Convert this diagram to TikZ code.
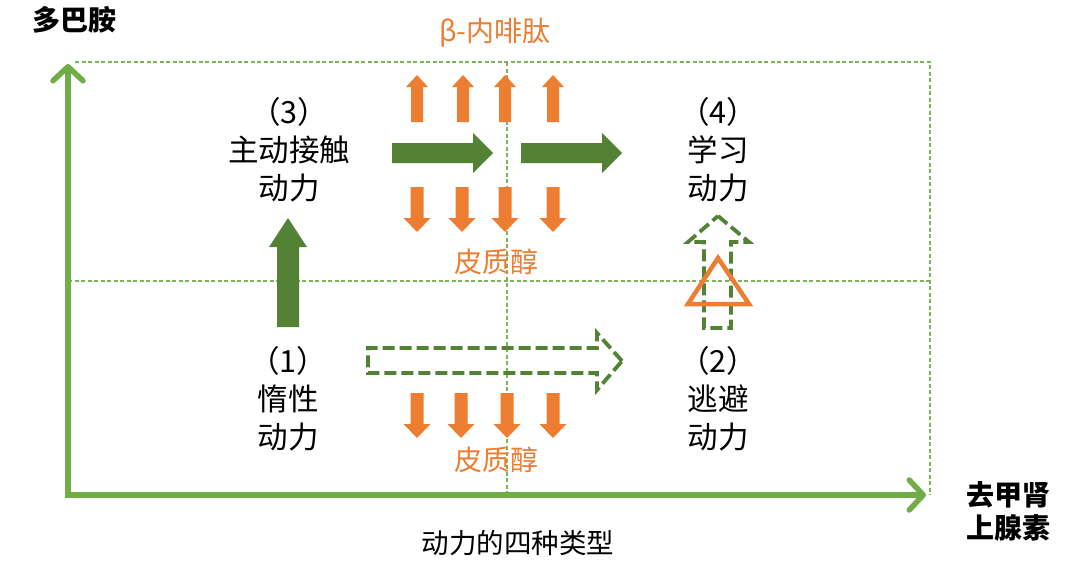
\documentclass[tikz,border=0pt]{standalone}
\usepackage{fontspec}
\setmainfont{Noto Sans CJK SC}
\usetikzlibrary{arrows.meta}
\definecolor{lgreen}{HTML}{70AD47}
\definecolor{dgreen}{HTML}{548235}
\definecolor{orng}{HTML}{ED7D31}
\tikzset{
  grid/.style={lgreen!90, line width=1.1pt, dash pattern=on 4pt off 2.5pt},
  axis/.style={lgreen, line width=5.5pt, -{Straight Barb[length=14pt,width=30pt,round]}},
  lbl/.style={align=center, font=\fontsize{30.5}{38}\selectfont, inner sep=0pt},
  olbl/.style={text=orng, font=\fontsize{28}{30}\selectfont, inner sep=0pt},
  blbl/.style={align=center, font=\bfseries\fontsize{28}{33}\selectfont, inner sep=0pt},
  hollow/.style={draw=dgreen, line width=3.8pt, dash pattern=on 12pt off 5pt, line join=miter},
  oup/.pic={\fill[orng] (0,0) -- (11,12) -- (6,12) -- (6,47) -- (-6,47) -- (-6,12) -- (-11,12) -- cycle;},
  odown/.pic={\fill[orng] (0,0) -- (-13.5,-14) -- (-6.5,-14) -- (-6.5,-45) -- (6.5,-45) -- (6.5,-14) -- (13.5,-14) -- cycle;},
  gright/.pic={\fill[dgreen] (0,0) -- (-20,-20) -- (-20,-10) -- (-101,-10) -- (-101,10) -- (-20,10) -- (-20,20) -- cycle;},
}
\begin{document}
\begin{tikzpicture}[x=1pt,y=-1pt]
\useasboundingbox (0,0) rectangle (1080,568);
% grid
\coordinate (tl) at (75,62);
\coordinate (tr) at (930,62);
\coordinate (br) at (930,495);
\coordinate (ml) at (68,281);
\coordinate (mr) at (930,281);
\coordinate (mt) at (507,62);
\coordinate (mb) at (507,495);
\draw[grid] (tl) -- (tr) -- (br);
\draw[grid] (ml) -- (mr);
\draw[grid] (mt) -- (mb);
% axes
\coordinate (o) at (68,495);
\coordinate (ytop) at (68,64);
\coordinate (xend) at (926,495);
\draw[axis] (68,497.75) -- (ytop);
\draw[axis] (65.25,495) -- (xend);
% axis labels
\node[blbl] (ylab) at (74,20) {多巴胺};
\node[blbl] (xlab) at (1008,511) {去甲肾\\上腺素};
\node[lbl, font=\fontsize{27.5}{30}\selectfont] (title) at (518,543) {动力的四种类型};
% quadrant labels
\node[lbl] (q3) at (289,150) {（3）\\主动接触\\动力};
\node[lbl] (q4) at (718,150) {（4）\\学习\\动力};
\node[lbl] (q1) at (288,399) {（1）\\惰性\\动力};
\node[lbl] (q2) at (718,399) {（2）\\逃避\\动力};
% orange labels
\node[olbl] (beta) at (495,33) {β-内啡肽};
\node[olbl] (cort1) at (496,262) {皮质醇};
\node[olbl] (cort2) at (496,460) {皮质醇};
% orange arrows
\foreach \x in {417,463,505,553} \pic at (\x,75) {oup};
\foreach \x in {417,462,505,553} \pic at (\x,232) {odown};
\foreach \x in {417,461,507,553} \pic at (\x,438) {odown};
% dark green block arrows
\pic at (493,153) {gright};
\pic at (622,153) {gright};
\fill[dgreen] (288,218) -- (307,247) -- (299,247) -- (299,327) -- (277,327) -- (277,247) -- (269,247) -- cycle;
% hollow dashed arrows
\draw[hollow] (622,361) -- (597,333) -- (597,348) -- (368,348) -- (368,373) -- (597,373) -- (597,390) -- cycle;
\draw[hollow] (718,216) -- (749,242) -- (731,242) -- (731,328) -- (704,328) -- (704,242) -- (688,242) -- cycle;
% orange triangle
\draw[orng, line width=4.5pt, line join=miter] (718,258) -- (749,304) -- (688,304) -- cycle;
\end{tikzpicture}
\end{document}
